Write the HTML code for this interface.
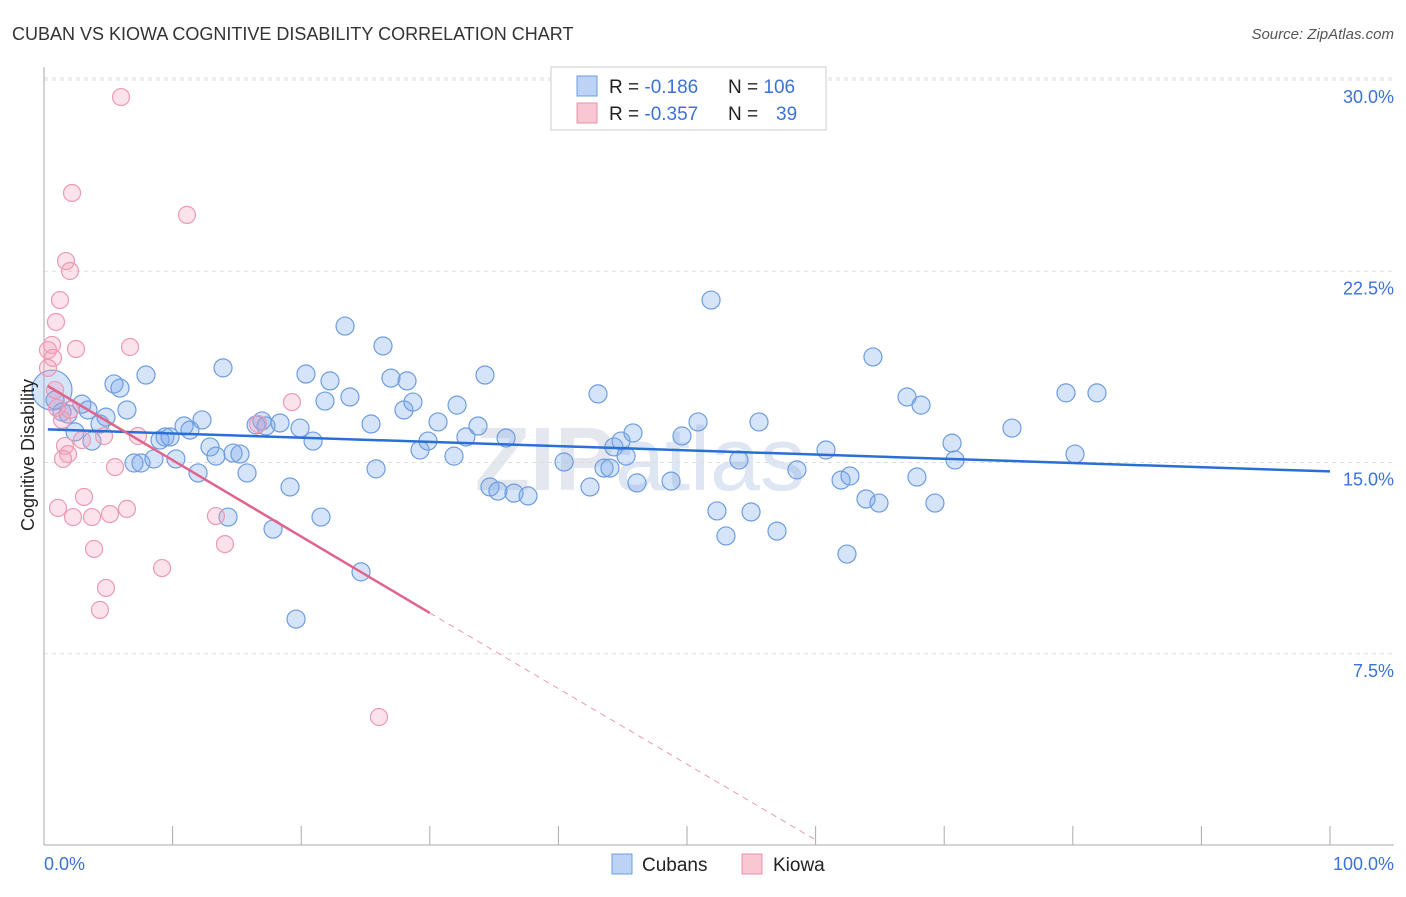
<!DOCTYPE html>
<html><head><meta charset="utf-8"><style>
body{margin:0;background:#fff;font-family:"Liberation Sans",sans-serif}
svg text{font-family:"Liberation Sans",sans-serif}
</style></head><body>
<svg id="c" width="1406" height="892">
<text x="12" y="40" font-size="18" fill="#333">CUBAN VS KIOWA COGNITIVE DISABILITY CORRELATION CHART</text>
<text x="1394" y="39" font-size="15" fill="#555" font-style="italic" text-anchor="end">Source: ZipAtlas.com</text>
<text x="640" y="490" font-size="90" fill="#e4e8ee" font-weight="bold" text-anchor="middle">ZIP<tspan font-weight="normal" fill="#dde6f2">atlas</tspan></text>
<g id="grid"></g><g id="axes"></g><g id="marks"></g>
<text x="34" y="455" font-size="18" fill="#222" text-anchor="middle" transform="rotate(-90 34 455)">Cognitive Disability</text>
<text x="44" y="870" font-size="18" fill="#3a72d8">0.0%</text>
<text x="1394" y="870" font-size="18" fill="#3a72d8" text-anchor="end">100.0%</text>
<g>
<rect x="551" y="67" width="275" height="63" fill="#fff" stroke="#ccc"/>
<rect x="577" y="76" width="20" height="20" fill="#bcd3f5" stroke="#6d9de0"/>
<rect x="577" y="103" width="20" height="20" fill="#f9c6d4" stroke="#e890aa"/>
<text x="609" y="93" font-size="19" fill="#222">R = <tspan fill="#3a72d8">-0.186</tspan><tspan x="728">N = </tspan><tspan fill="#3a72d8">106</tspan></text>
<text x="609" y="120" font-size="19" fill="#222">R = <tspan fill="#3a72d8">-0.357</tspan><tspan x="728">N = </tspan><tspan fill="#3a72d8" x="776">39</tspan></text>
</g>
<g>
<rect x="612" y="854" width="20" height="20" fill="#bcd3f5" stroke="#6d9de0"/>
<text x="642" y="871" font-size="19" fill="#222">Cubans</text>
<rect x="742" y="854" width="20" height="20" fill="#f9c6d4" stroke="#e890aa"/>
<text x="773" y="871" font-size="19" fill="#222">Kiowa</text>
</g>
</svg>
<script>
const yTicks=[7.5,15,22.5,30];
const yTickLabels=["7.5%","15.0%","22.5%","30.0%"];
const xTicks=[0,10,20,30,40,50,60,70,80,90,100];
const cubanPx=[[52,390],[55,400],[62,412],[68,414],[75,432],[82,404],[88,410],[92,441],[100,424],[106,417],[114,384],[120,388],[127,410],[134,463],[141,463],[146,375],[154,459],[160,440],[165,437],[170,437],[176,459],[184,426],[190,430],[198,473],[202,420],[210,447],[216,456],[223,368],[228,517],[233,453],[240,454],[247,473],[256,425],[262,421],[266,426],[273,529],[280,423],[290,487],[296,619],[300,428],[306,374],[313,441],[321,517],[325,401],[330,381],[345,326],[350,397],[361,572],[371,424],[376,469],[383,346],[391,378],[404,410],[407,381],[413,402],[420,450],[428,441],[438,422],[454,456],[457,405],[466,437],[478,426],[485,375],[490,487],[498,491],[506,438],[514,493],[528,496],[564,462],[590,487],[598,394],[604,468],[610,468],[614,447],[621,441],[626,456],[633,433],[637,483],[671,481],[682,436],[698,422],[711,300],[717,511],[726,536],[739,460],[751,512],[759,422],[777,531],[797,470],[826,450],[841,480],[847,554],[850,476],[866,499],[873,357],[879,503],[907,397],[917,477],[921,405],[935,503],[952,443],[955,460],[1012,428],[1066,393],[1075,454],[1097,393]];
const kiowaPx=[[121,97],[72,193],[187,215],[66,261],[70,271],[60,300],[56,322],[52,345],[48,350],[53,358],[48,368],[76,349],[130,347],[292,402],[57,408],[62,420],[82,440],[104,436],[138,436],[65,446],[68,454],[63,459],[115,467],[258,424],[84,497],[58,508],[73,517],[92,517],[110,514],[127,509],[216,516],[225,544],[94,549],[162,568],[106,588],[100,610],[379,717],[55,390],[70,410]];
// data values (percent) derived from the picture
const cubanX=cubanPx.map(p=>+((p[0]-44)/12.86).toFixed(2));
const cubanY=cubanPx.map(p=>+((845-p[1])/25.5).toFixed(2));
const kiowaX=kiowaPx.map(p=>+((p[0]-44)/12.86).toFixed(2));
const kiowaY=kiowaPx.map(p=>+((845-p[1])/25.5).toFixed(2));
const cubanTrend=[[0.3,16.3],[100,14.65]];
const kiowaTrend=[[0.3,18.0],[30,9.1]];
const kiowaTrendExt=[[30,9.1],[60,0.2]];
const X=v=>44+v*12.86, Y=v=>845-v*25.5;
const NS="http://www.w3.org/2000/svg";
function mk(t,a,p){const e=document.createElementNS(NS,t);for(const k in a)e.setAttribute(k,a[k]);p.appendChild(e);return e;}
const grid=document.getElementById('grid'),axes=document.getElementById('axes'),marks=document.getElementById('marks');
yTicks.forEach((t,i)=>{
 const l=mk('line',{x1:44,x2:1394,y1:Y(t),y2:Y(t),stroke:'#ddd','stroke-dasharray':'4,4'},grid);
 
 
 const tx=mk('text',{x:1394,y:Y(t)+23,'font-size':18,fill:'#3a72d8','text-anchor':'end'},axes);
 tx.textContent=yTickLabels[i];
 
 
});
const topG=mk('line',{x1:44,x2:1394,y1:78,y2:78,stroke:'#ddd','stroke-dasharray':'4,4'},grid);
const ya=mk('line',{x1:44,x2:44,y1:67,y2:845,stroke:'#aaa'},axes);


const xa=mk('line',{x1:44,x2:1394,y1:845,y2:845,stroke:'#aaa'},axes);


xTicks.forEach(t=>{const l=mk('line',{x1:X(t),x2:X(t),y1:826,y2:845,stroke:'#aaa'},axes);
 
 });
cubanX.forEach((x,i)=>{const c=mk('circle',{cx:X(x),cy:Y(cubanY[i]),r:i==0?20:9,fill:'rgba(120,165,235,0.3)',stroke:'#6d9de0','stroke-width':1.2},marks);
 
 });
kiowaX.forEach((x,i)=>{const c=mk('circle',{cx:X(x),cy:Y(kiowaY[i]),r:8.5,fill:'rgba(245,160,185,0.3)',stroke:'#ec9ab2','stroke-width':1.2},marks);
 
 });
const bt=mk('line',{x1:X(cubanTrend[0][0]),y1:Y(cubanTrend[0][1]),x2:X(cubanTrend[1][0]),y2:Y(cubanTrend[1][1]),stroke:'#2a6fd6','stroke-width':2.5},marks);


const kt=mk('line',{x1:X(kiowaTrend[0][0]),y1:Y(kiowaTrend[0][1]),x2:X(kiowaTrend[1][0]),y2:Y(kiowaTrend[1][1]),stroke:'#e0648c','stroke-width':2.5},marks);


const ke=mk('line',{x1:X(kiowaTrendExt[0][0]),y1:Y(kiowaTrendExt[0][1]),x2:X(kiowaTrendExt[1][0]),y2:Y(kiowaTrendExt[1][1]),stroke:'#ec9ab2','stroke-width':1,'stroke-dasharray':'6,5'},marks);


</script>
</body></html>
